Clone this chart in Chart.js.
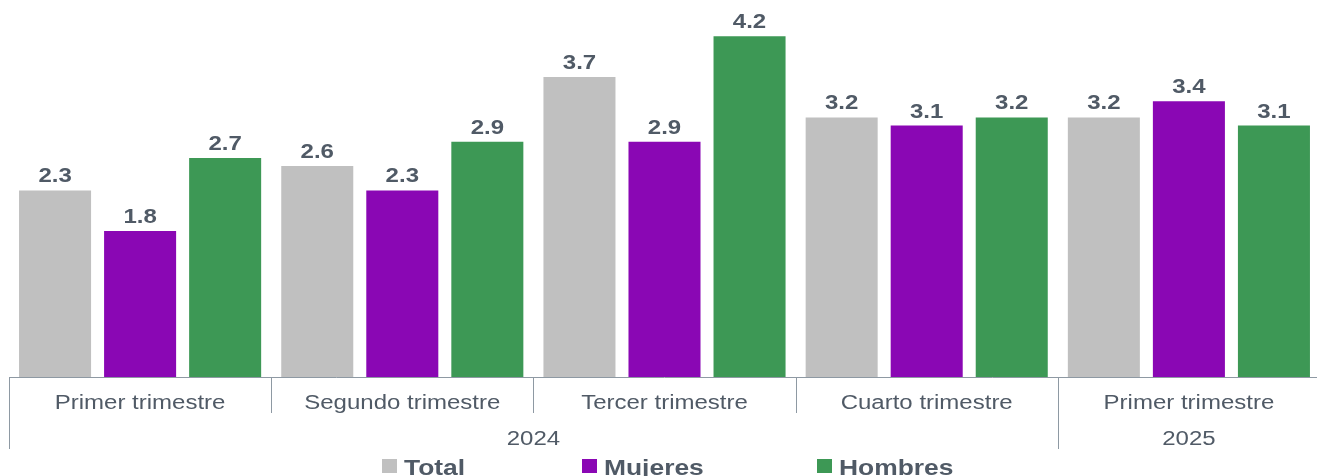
<!DOCTYPE html>
<html>
<head>
<meta charset="utf-8">
<script src="https://cdn.jsdelivr.net/npm/chart.js@4/dist/chart.umd.min.js"></script>
<style>
  html, body { margin: 0; padding: 0; background: #fff; overflow: hidden; }
  #wrap { width: 1317px; height: 476px; overflow: hidden; }
  canvas { display: block; }
</style>
</head>
<body>
<div id="wrap"><canvas id="chart" width="1322" height="476"></canvas></div>
<script>
// categories / years
var quarters = ["Primer trimestre", "Segundo trimestre", "Tercer trimestre", "Cuarto trimestre", "Primer trimestre"];
var years = ["2024", "2025"];
var yearSpans = [4, 1]; // how many quarters fall in each year

// series values
var total   = [2.3, 2.6, 3.7, 3.2, 3.2];
var mujeres = [1.8, 2.3, 2.9, 3.1, 3.4];
var hombres = [2.7, 2.9, 4.2, 3.2, 3.1];

var textColor = "#505a66";
var lineColor = "#8e99a3";
var stretch = 1.2; // reference text is a bit wide

function wideText(ctx, txt, x, y) {
  ctx.save();
  ctx.translate(x, y);
  ctx.scale(stretch, 1);
  ctx.fillText(txt, 0, 0);
  ctx.restore();
}

var decorPlugin = {
  id: "decor",
  afterDatasetsDraw: function(chart) {
    var ctx = chart.ctx;
    var area = chart.chartArea;
    var xs = chart.scales.x;
    var half = (xs.getPixelForValue(1) - xs.getPixelForValue(0)) / 2;

    // value labels above bars
    ctx.save();
    ctx.fillStyle = textColor;
    ctx.font = "bold 20px 'Liberation Sans', Arial, sans-serif";
    ctx.textAlign = "center";
    ctx.textBaseline = "alphabetic";
    chart.data.datasets.forEach(function(ds, di) {
      var meta = chart.getDatasetMeta(di);
      meta.data.forEach(function(bar, i) {
        wideText(ctx, ds.data[i].toFixed(1), bar.x, bar.y - 8);
      });
    });
    ctx.restore();

    // axis line and separators
    ctx.save();
    ctx.strokeStyle = lineColor;
    ctx.lineWidth = 1;
    ctx.beginPath();
    ctx.moveTo(area.left, area.bottom + 0.5);
    ctx.lineTo(area.right, area.bottom + 0.5);
    var idx = 0;
    var yearStarts = [0];
    yearSpans.forEach(function(n) { idx += n; yearStarts.push(idx); });
    for (var i = 0; i <= quarters.length; i++) {
      var px = Math.round(xs.getPixelForValue(i) - half) + 0.5;
      var isYear = yearStarts.indexOf(i) >= 0;
      ctx.moveTo(px, area.bottom);
      ctx.lineTo(px, area.bottom + (isYear ? 72 : 36));
    }
    ctx.stroke();

    // quarter labels
    ctx.fillStyle = textColor;
    ctx.font = "20px 'Liberation Sans', Arial, sans-serif";
    ctx.textAlign = "center";
    quarters.forEach(function(q, i) {
      wideText(ctx, q, xs.getPixelForValue(i), area.bottom + 32);
    });

    // year labels
    for (var y = 0; y < years.length; y++) {
      var a = xs.getPixelForValue(yearStarts[y]) - half;
      var b = xs.getPixelForValue(yearStarts[y + 1] - 1) + half;
      wideText(ctx, years[y], (a + b) / 2, area.bottom + 68);
    }

    // legend
    var items = [
      { x: 382, label: "Total" },
      { x: 582, label: "Mujeres" },
      { x: 817, label: "Hombres" }
    ];
    ctx.font = "bold 22px 'Liberation Sans', Arial, sans-serif";
    ctx.textAlign = "left";
    items.forEach(function(it, k) {
      ctx.fillStyle = chart.data.datasets[k].backgroundColor;
      ctx.fillRect(it.x, 459, 15, 14);
      ctx.fillStyle = textColor;
      wideText(ctx, it.label, it.x + 22, 475);
    });
    ctx.restore();
  }
};

new Chart(document.getElementById("chart"), {
  type: "bar",
  data: {
    labels: quarters,
    datasets: [
      { label: "Total", data: total, backgroundColor: "#c0c0c0" },
      { label: "Mujeres", data: mujeres, backgroundColor: "#8a07b4" },
      { label: "Hombres", data: hombres, backgroundColor: "#3d9855" }
    ]
  },
  options: {
    responsive: false,
    animation: false,
    devicePixelRatio: 1,
    categoryPercentage: 0.973,
    barPercentage: 0.847,
    layout: { padding: { left: 9, right: 2, top: 12, bottom: 99 } },
    plugins: { legend: { display: false }, tooltip: { enabled: false } },
    scales: {
      x: { display: false },
      y: { display: false, min: 0, max: 4.5 }
    }
  },
  plugins: [decorPlugin]
});
</script>
</body>
</html>
